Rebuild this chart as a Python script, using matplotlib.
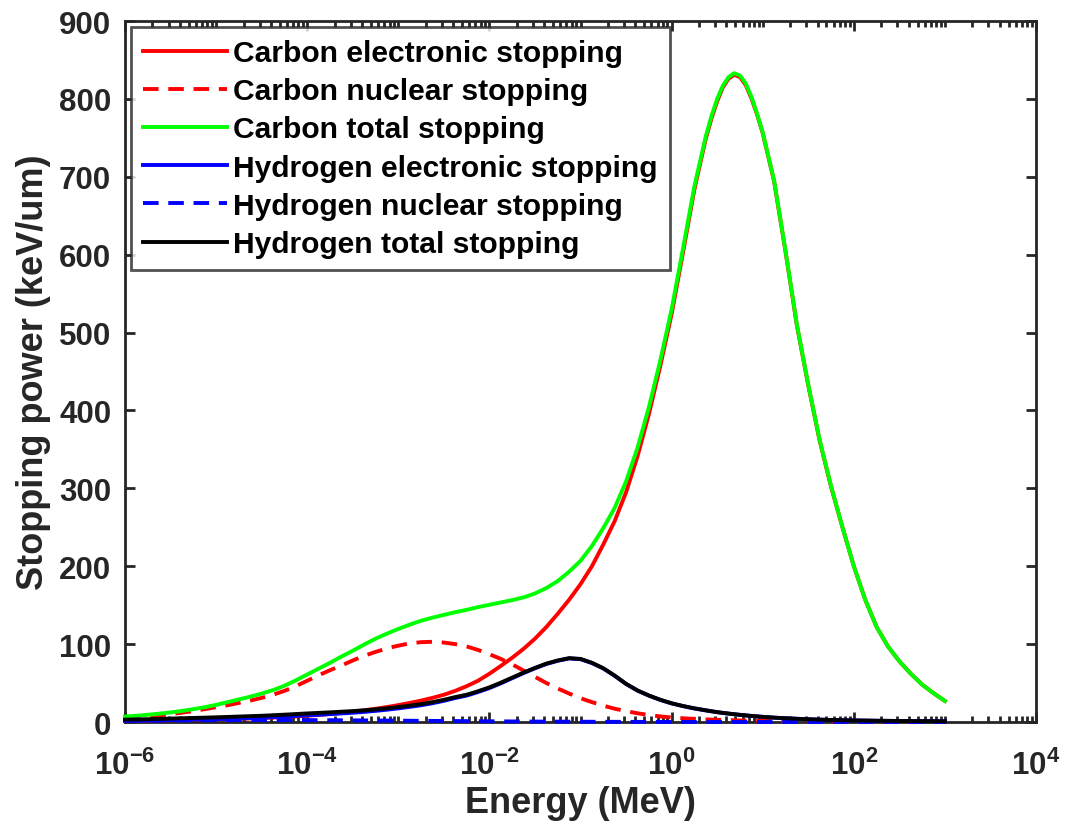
import numpy as np
import matplotlib
matplotlib.use('Agg')
import matplotlib.pyplot as plt
from matplotlib.ticker import LogLocator, NullFormatter

# energy grid, log10(E / MeV)
log_e = [-6, -5.875, -5.75, -5.625, -5.5, -5.375, -5.25, -5.125,
         -5, -4.875, -4.75, -4.625, -4.5, -4.375, -4.25, -4.125,
         -4, -3.875, -3.75, -3.625, -3.5, -3.375, -3.25, -3.125,
         -3, -2.875, -2.75, -2.625, -2.5, -2.375, -2.25, -2.125,
         -2, -1.875, -1.75, -1.625, -1.5, -1.375, -1.25, -1.125,
         -1, -0.875, -0.75, -0.625, -0.5, -0.375, -0.25, -0.125,
         0, 0.125, 0.25, 0.375, 0.4375, 0.5, 0.5625, 0.625,
         0.6875, 0.75, 0.8125, 0.875, 0.9375, 1, 1.125, 1.25,
         1.375, 1.5, 1.625, 1.75, 1.875, 2, 2.125, 2.25,
         2.375, 2.5, 2.625, 2.75, 2.875, 3]

# stopping powers in keV/um
c_ele = [1.5, 1.7, 1.9, 2.1, 2.3, 2.6, 2.9, 3.2,
         3.5, 3.8, 4.2, 4.6, 5.1, 5.7, 6.4, 7.2,
         8.1, 9.1, 10.3, 11.7, 13.3, 15, 17, 19.2,
         21.7, 24.5, 27.5, 31, 35, 40, 46, 53,
         62, 72, 82.5, 94, 107, 122, 139, 157,
         177, 200, 228, 258, 295, 341, 395, 457,
         524, 603, 684, 749, 775, 797, 815, 826,
         831, 828, 818, 801, 780, 756, 694, 604,
         509, 432, 361, 302, 250, 200, 157, 122,
         97, 78, 62, 48, 37, 27]
c_nuc = [5, 6, 7, 8.4, 10, 12, 14, 16.5,
         19, 21.5, 24.5, 27.5, 31, 35, 40, 46,
         53, 60, 66.5, 72.5, 79, 85, 90, 94.5,
         98, 101, 102.5, 103, 102, 100, 97, 92.5,
         87, 81, 74, 66, 58, 50, 43, 36.5,
         30.5, 25.5, 21, 17, 14, 11.2, 9, 7.2,
         5.8, 4.8, 4, 3.3, 3.1, 2.8, 2.6, 2.4,
         2.2, 2.0, 1.9, 1.7, 1.6, 1.4, 1.2, 1.0,
         0.9, 0.8, 0.7, 0.6, 0.5, 0.45, 0.4, 0.35,
         0.3, 0.26, 0.23, 0.2, 0.17, 0.15]
c_tot = [7, 8, 9.3, 10.7, 12.3, 14.2, 16.5, 19,
         22, 25.5, 29, 32.5, 36.5, 41, 46.5, 53.5,
         61, 68.5, 76, 84, 91.5, 99.5, 107, 113.5,
         119.5, 125, 130, 134, 137.5, 141, 144, 147.5,
         150.5, 153.5, 156.5, 160, 165, 172, 181, 193,
         207, 226, 249, 275, 309, 352, 404, 464,
         530, 608, 688, 752, 778, 800, 817, 828,
         833, 830, 820, 803, 781, 757, 695, 605,
         510, 433, 362, 303, 250, 200, 157, 122,
         97, 78, 62, 48, 37, 27]
h_ele = [1.5, 1.65, 1.8, 2.1, 2.4, 2.7, 3.0, 3.3,
         3.6, 4.05, 4.5, 5.0, 5.5, 6.2, 6.9, 7.75,
         8.6, 9.35, 10.1, 11.0, 11.9, 13.0, 14.3, 15.8,
         17.5, 19.4, 21.5, 24.1, 27.2, 30.8, 33.9, 38.5,
         43.6, 49.7, 56.3, 62.85, 68.95, 74.5, 78.55, 81.6,
         80.65, 75.7, 68.75, 59.3, 48.8, 40.35, 33.9, 28.4,
         23.9, 20.4, 17.4, 14.9, 13.7, 12.6, 11.6, 10.75,
         9.95, 9.15, 8.45, 7.75, 7.15, 6.55, 5.55, 4.8,
         4.1, 3.5, 3.0, 2.6, 2.3, 2.0, 1.8, 1.6,
         1.45, 1.3, 1.2, 1.1, 1.0, 0.9]
h_nuc = [1.5, 1.65, 1.8, 1.9, 2.0, 2.1, 2.2, 2.3,
         2.4, 2.45, 2.5, 2.5, 2.5, 2.5, 2.5, 2.45,
         2.4, 2.35, 2.3, 2.2, 2.1, 2.0, 1.9, 1.8,
         1.7, 1.6, 1.5, 1.4, 1.3, 1.2, 1.1, 1.0,
         0.9, 0.8, 0.7, 0.65, 0.55, 0.5, 0.45, 0.4,
         0.35, 0.3, 0.25, 0.22, 0.18, 0.15, 0.13, 0.11,
         0.1, 0.09, 0.08, 0.07, 0.065, 0.06, 0.055, 0.05,
         0.045, 0.04, 0.037, 0.034, 0.031, 0.028, 0.024, 0.021,
         0.018, 0.016, 0.014, 0.012, 0.011, 0.01, 0.009, 0.008,
         0.007, 0.006, 0.006, 0.005, 0.005, 0.004]
h_tot = [3, 3.3, 3.6, 4, 4.4, 4.8, 5.2, 5.6,
         6, 6.5, 7, 7.5, 8, 8.7, 9.4, 10.2,
         11, 11.7, 12.4, 13.2, 14, 15, 16.2, 17.6,
         19.2, 21, 23, 25.5, 28.5, 32, 35, 39.5,
         44.5, 50.5, 57, 63.5, 69.5, 75, 79, 82,
         81, 76, 69, 59.5, 49, 40.5, 34, 28.5,
         24, 20.5, 17.5, 15, 13.8, 12.7, 11.7, 10.8,
         10, 9.2, 8.5, 7.8, 7.2, 6.6, 5.6, 4.8,
         4.1, 3.5, 3, 2.6, 2.3, 2, 1.8, 1.6,
         1.45, 1.3, 1.2, 1.1, 1.0, 0.9]

labels = ['Carbon electronic stopping', 'Carbon nuclear stopping', 'Carbon total stopping',
          'Hydrogen electronic stopping', 'Hydrogen nuclear stopping', 'Hydrogen total stopping']
xtick_vals = [1e-6, 1e-4, 1e-2, 1e0, 1e2, 1e4]
xtick_labels = ['$10^{-6}$', '$10^{-4}$', '$10^{-2}$', '$10^{0}$', '$10^{2}$', '$10^{4}$']
ytick_vals = [0, 100, 200, 300, 400, 500, 600, 700, 800, 900]

plt.rcParams['font.family'] = ['Liberation Sans', 'DejaVu Sans']
plt.rcParams['font.weight'] = 'bold'
plt.rcParams['mathtext.fontset'] = 'custom'
plt.rcParams['mathtext.rm'] = 'Liberation Sans:bold'
plt.rcParams['mathtext.it'] = 'Liberation Sans:bold'
plt.rcParams['mathtext.bf'] = 'Liberation Sans:bold'
plt.rcParams['mathtext.default'] = 'rm'

axcol = '#262626'
energy = 10.0 ** np.array(log_e)

fig = plt.figure(figsize=(10.66, 8.37), dpi=100)
ax = fig.add_axes([0.1173, 0.1362, 0.8546, 0.8375])

lw = 2.8
dash = (4, 2.5)
style = dict(lw=lw, zorder=3, clip_on=False)
ax.plot(energy, c_ele, color=(1, 0, 0), label=labels[0], **style)
ax.plot(energy, c_nuc, color=(1, 0, 0), linestyle=(0, dash), label=labels[1], **style)
ax.plot(energy, c_tot, color=(0, 1, 0), label=labels[2], **style)
ax.plot(energy, h_ele, color=(0, 0, 1), label=labels[3], **style)
ax.plot(energy, h_nuc, color=(0, 0, 1), linestyle=(0, dash), label=labels[4], **style)
ax.plot(energy, h_tot, color='black', label=labels[5], **style)

ax.set_xscale('log')
ax.set_xlim(1e-6, 1e4)
ax.set_ylim(0, 900)
ax.set_xticks(xtick_vals)
ax.set_xticklabels(xtick_labels)
ax.xaxis.set_minor_locator(LogLocator(base=10, subs=np.arange(1, 10), numticks=100))
ax.xaxis.set_minor_formatter(NullFormatter())
ax.set_yticks(ytick_vals)

for s in ax.spines.values():
    s.set_color(axcol)
    s.set_linewidth(2.0)
ax.tick_params(which='both', direction='in', top=True, right=True, color=axcol, width=2.0)
ax.tick_params(which='major', length=7.5, labelsize=22.5, labelcolor=axcol)
ax.tick_params(axis='x', which='major', pad=20)
ax.tick_params(axis='y', which='major', pad=10)
ax.tick_params(which='minor', length=4)

ax.set_xlabel('Energy (MeV)', fontsize=26, fontweight='bold', color=axcol, labelpad=3)
ax.set_ylabel('Stopping power (keV/um)', fontsize=26, fontweight='bold', color=axcol, labelpad=6)

leg = ax.legend(loc='upper left', fontsize=21.6, frameon=True, fancybox=False,
                handlelength=2.8, handletextpad=0.2, labelspacing=0.34,
                borderpad=0.4, borderaxespad=0.2)
leg.set_zorder(5)
leg.get_frame().set_edgecolor(axcol)
leg.get_frame().set_linewidth(2.0)
for t in leg.get_texts():
    t.set_fontweight('bold')

fig.savefig('out.png', dpi=100)
